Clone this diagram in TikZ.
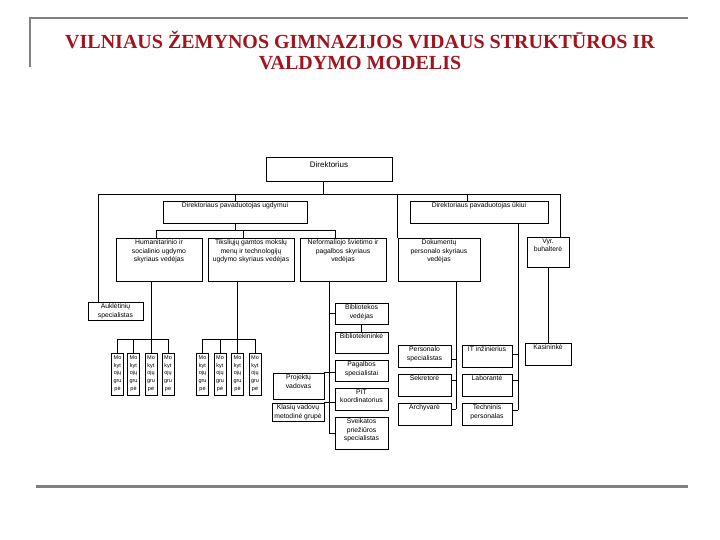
\documentclass[tikz,border=0pt]{standalone}
\usepackage{fontspec}
\setmainfont{Liberation Serif}
\newfontfamily\boxfont{Liberation Sans}
\definecolor{titlered}{RGB}{160,20,30}
\definecolor{framegray}{RGB}{128,128,128}
\tikzset{
  box/.style={draw=black, line width=0.8pt, inner sep=0pt, fill=white},
  boxtext/.style={font=\boxfont\fontsize{6.8}{8.5}\selectfont, align=center, inner sep=0pt, anchor=north, yshift=-1.8pt},
  smalltext/.style={font=\boxfont\fontsize{5.5}{7.7}\selectfont, yshift=-1pt},
  bigtext/.style={font=\boxfont\fontsize{8}{9}\selectfont, yshift=-3pt},
  conn/.style={draw=black, line width=0.8pt},
  frameline/.style={draw=framegray, line width=2.4pt},
  titletext/.style={font=\bfseries\fontsize{20}{22}\selectfont, text=titlered, anchor=base, inner sep=0pt}
}
% name x1 y1 x2 y2 text
\newcommand\obox[7][]{\node[box, minimum width={(#5-#3)*1pt}, minimum height={(#6-#4)*1pt},
  label={[boxtext,#1]north:{#7}}] (#2) at ({(#3+#5)/2},{(#4+#6)/2}) {};}
\begin{document}
\begin{tikzpicture}[x=1pt,y=-1pt]
\useasboundingbox (0,0) rectangle (720,540);
% frame
\draw[frameline] (30,18) -- (688,18);
\draw[frameline] (30,17) -- (30,67);
\draw[frameline, line width=3pt] (36,486) -- (688,486);
% title
\node[titletext] (t1) at (360,49) {VILNIAUS ŽEMYNOS GIMNAZIJOS VIDAUS STRUKTŪROS IR};
\node[titletext] (t2) at (360,70) {VALDYMO MODELIS};
% boxes
\obox[bigtext]{dir}{266}{157}{392}{181}{Direktorius}
\obox{pu}{163}{201}{307}{223}{Direktoriaus pavaduotojas ugdymui}
\obox{pk}{410}{201}{548}{223}{Direktoriaus pavaduotojas ūkiui}
\obox{aukl}{88}{302}{143}{320}{Auklėtinių\\specialistas}
\obox{hum}{116}{238}{202}{281}{Humanitarinio ir\\socialinio ugdymo\\skyriaus vedėjas}
\obox{tiks}{208}{238}{294}{281}{Tiksliųjų gamtos mokslų\\menų ir technologijų\\ugdymo skyriaus vedėjas}
\obox{ref}{300}{238}{386}{281}{Neformaliojo švietimo ir\\pagalbos skyriaus\\vedėjas}
\obox{dok}{398}{238}{480}{281}{Dokumentų\\personalo skyriaus\\vedėjas}
\obox{vyr}{527}{237}{569}{267}{Vyr.\\buhalterė}
\obox{bib}{335}{303}{388}{324}{Bibliotekos\\vedėjas}
\obox{bibk}{335}{332}{388}{353}{Bibliotekininkė}
\obox{pag}{335}{360}{388}{381}{Pagalbos\\specialistai}
\obox{pit}{335}{388}{388}{410}{PIT\\koordinatorius}
\obox{sv}{335}{417}{388}{449}{Sveikatos\\priežiūros\\specialistas}
\obox{proj}{273}{373}{324}{399}{Projektų\\vadovas}
\obox{klas}{272}{403}{324}{421}{Klasių vadovų\\metodinė grupė}
\obox{pers}{398}{345}{451}{367}{Personalo\\specialistas}
\obox{sek}{398}{374}{451}{396}{Sekretorė}
\obox{arch}{398}{403}{451}{425}{Archyvarė}
\obox{it}{462}{345}{512}{367}{IT inžinierius}
\obox{lab}{462}{374}{512}{396}{Laborantė}
\obox{tech}{462}{403}{512}{425}{Techninis\\personalas}
\obox{kas}{525}{343}{571}{365}{Kasininkė}
% teacher groups
\obox[smalltext]{m1}{111.5}{353}{123.5}{395}{Mo\\kyt\\ojų\\gru\\pė}
\obox[smalltext]{m2}{127.5}{353}{139.5}{395}{Mo\\kyt\\ojų\\gru\\pė}
\obox[smalltext]{m3}{145}{353}{157}{395}{Mo\\kyt\\ojų\\gru\\pė}
\obox[smalltext]{m4}{162}{353}{174}{395}{Mo\\kyt\\ojų\\gru\\pė}
\obox[smalltext]{m5}{196.5}{353}{208.5}{395}{Mo\\kyt\\ojų\\gru\\pė}
\obox[smalltext]{m6}{214}{353}{226}{395}{Mo\\kyt\\ojų\\gru\\pė}
\obox[smalltext]{m7}{231.5}{353}{243.5}{395}{Mo\\kyt\\ojų\\gru\\pė}
\obox[smalltext]{m8}{249}{353}{261}{395}{Mo\\kyt\\ojų\\gru\\pė}
% bus levels
\coordinate (busM) at (0,194);
\coordinate (busU) at (0,230);
\coordinate (busA) at (0,339);
% drop points
\coordinate (xA) at ([xshift=11pt]aukl.north west);
\coordinate (xD) at ([xshift=-6pt]dir.south);
\coordinate (xV) at ([xshift=12pt]vyr.north);
\coordinate (xK) at ([xshift=-12pt]pk.north);
\coordinate (xH) at ([xshift=-3pt]hum.north);
\coordinate (xT) at ([xshift=-8pt]tiks.north);
\coordinate (xR) at ([xshift=-8pt]ref.north);
\coordinate (xRb) at ([xshift=-14pt]ref.south);
\coordinate (xDk) at ([xshift=17pt]dok.south);
\coordinate (xU) at ([xshift=39pt]pk.south);
\coordinate (cPers) at ([yshift=-3pt]pers.east);
\coordinate (cSek) at ([yshift=5pt]sek.east);
\coordinate (cArch) at ([yshift=5pt]arch.east);
\coordinate (cIT) at ([yshift=2pt]it.east);
\coordinate (cLab) at ([yshift=5pt]lab.east);
\coordinate (cTech) at ([yshift=4pt]tech.east);
% main level
\draw[conn] (xD) -- (xD |- busM);
\draw[conn] (xA |- busM) -- (xV |- busM);
\draw[conn] (xA |- busM) -- (xA);
\draw[conn] (pu.north |- busM) -- (pu.north);
\draw[conn] (dok.north west |- busM) -- (dok.north west);
\draw[conn] (xK |- busM) -- (xK);
\draw[conn] (xV |- busM) -- (xV);
% under deputy for education
\draw[conn] (pu.south) -- (pu.south |- busU);
\draw[conn] (xH |- busU) -- (xR |- busU);
\draw[conn] (xH |- busU) -- (xH);
\draw[conn] (xT |- busU) -- (xT);
\draw[conn] (xR |- busU) -- (xR);
% teacher groups
\draw[conn] (hum.south -| m3.north) -- (m3.north |- busA);
\draw[conn] (m1.north |- busA) -- (m4.north |- busA);
\foreach \m in {m1,m2,m3,m4,m5,m6,m7,m8} {\draw[conn] (\m.north |- busA) -- (\m.north);}
\draw[conn] (tiks.south -| m7.north) -- (m7.north |- busA);
\draw[conn] (m5.north |- busA) -- (m8.north |- busA);
% non-formal education group
\draw[conn] (xRb) -- (xRb |- sv.west);
\draw[conn] (xRb |- bib.west) -- (bib.west);
\draw[conn] (bib.south) -- (bibk.north);
\draw[conn] (proj.north east) -- (pag.west |- proj.north east);
\draw[conn] (klas.north east) -- (pit.west |- klas.north east);
\draw[conn] (xRb |- sv.west) -- (sv.west);
% documents group
\draw[conn] (xDk) -- (xDk |- cArch);
\draw[conn] (cPers) -- (cPers -| xDk);
\draw[conn] (cSek) -- (cSek -| xDk);
\draw[conn] (cArch) -- (cArch -| xDk);
% deputy for economy group
\draw[conn] (xU) -- (xU |- cTech);
\draw[conn] (cIT) -- (cIT -| xU);
\draw[conn] (cLab) -- (cLab -| xU);
\draw[conn] (cTech) -- (cTech -| xU);
% accountant
\draw[conn] (vyr.south) -- (kas.north);
\end{tikzpicture}
\end{document}
